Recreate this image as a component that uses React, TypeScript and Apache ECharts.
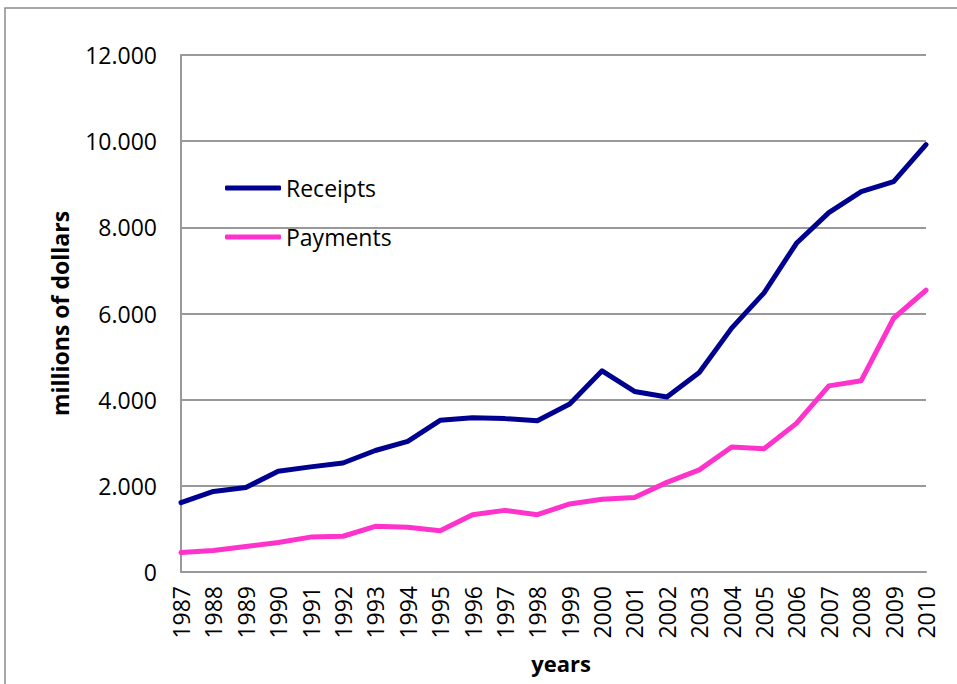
import React, { useEffect, useRef } from "react";
import * as echarts from "echarts";

const years = [
  "1987", "1988", "1989", "1990", "1991", "1992", "1993", "1994", "1995", "1996", "1997", "1998",
  "1999", "2000", "2001", "2002", "2003", "2004", "2005", "2006", "2007", "2008", "2009", "2010",
];
const receipts = [
  1610, 1870, 1960, 2340, 2440, 2530, 2820, 3030, 3520, 3580, 3560, 3510,
  3900, 4670, 4190, 4060, 4630, 5660, 6480, 7630, 8340, 8830, 9060, 9920,
];
const payments = [
  450, 500, 590, 685, 810, 830, 1060, 1040, 960, 1330, 1430, 1330,
  1580, 1690, 1730, 2080, 2370, 2900, 2860, 3450, 4320, 4440, 5890, 6540,
];
const yTicks = [0, 2000, 4000, 6000, 8000, 10000, 12000];

const FONT = "'Open Sans', 'Noto Sans', sans-serif";

function fmt(v: number): string {
  if (v === 0) return "0";
  const s = String(Math.round(v));
  return s.replace(/\B(?=(\d{3})+(?!\d))/g, ".");
}

export default function App() {
  const ref = useRef<HTMLDivElement>(null);
  useEffect(() => {
    if (!ref.current) return;
    const chart = echarts.init(ref.current, null, { renderer: "svg" });
    chart.setOption({
      animation: false,
      backgroundColor: "#ffffff",
      graphic: [
        {
          type: "rect",
          shape: { x: 5, y: 8, width: 1000, height: 720 },
          style: { fill: "none", stroke: "#8c8c8c", lineWidth: 1.5 },
          silent: true,
          z: -1,
        },
      ],
      grid: { left: 181, right: 31, top: 55, bottom: 112, containLabel: false },
      legend: {
        orient: "vertical",
        left: 220,
        top: 171,
        icon: "roundRect",
        itemWidth: 56,
        itemHeight: 5,
        itemGap: 25,
        textStyle: { fontFamily: FONT, fontSize: 23, color: "#000", lineHeight: 24 },
        data: ["Receipts", "Payments"],
      },
      xAxis: {
        type: "category",
        data: years,
        boundaryGap: false,
        name: "years",
        nameLocation: "middle",
        nameGap: 80,
        nameTextStyle: { fontFamily: FONT, fontSize: 22, fontWeight: "bold", color: "#000", padding: [0, 0, 0, 15] },
        axisLine: { show: true, lineStyle: { color: "#999999", width: 2 } },
        axisTick: { show: false },
        axisLabel: { rotate: 90, interval: 0, margin: 14, fontFamily: FONT, fontSize: 23, color: "#000" },
        splitLine: { show: false },
      },
      yAxis: {
        type: "value",
        min: yTicks[0],
        max: yTicks[yTicks.length - 1],
        interval: 2000,
        name: "millions of dollars",
        nameLocation: "middle",
        nameGap: 110,
        nameTextStyle: { fontFamily: FONT, fontSize: 23, fontWeight: "bold", color: "#000" },
        axisLine: { show: true, lineStyle: { color: "#999999", width: 2 } },
        axisTick: { show: false },
        axisLabel: { margin: 24, fontFamily: FONT, fontSize: 23, color: "#000", formatter: (v: number) => fmt(v) },
        splitLine: { show: true, lineStyle: { color: "#999999", width: 2 } },
      },
      series: [
        {
          name: "Receipts",
          type: "line",
          data: receipts,
          showSymbol: false,
          symbol: "none",
          color: "#000090",
          lineStyle: { width: 5, color: "#000090", join: "round", cap: "round" },
        },
        {
          name: "Payments",
          type: "line",
          data: payments,
          showSymbol: false,
          symbol: "none",
          color: "#ff33cc",
          lineStyle: { width: 5, color: "#ff33cc", join: "round", cap: "round" },
        },
      ],
    });
    return () => chart.dispose();
  }, []);
  return <div ref={ref} style={{ width: 957, height: 684, position: "absolute", left: 0, top: 0 }} />;
}
